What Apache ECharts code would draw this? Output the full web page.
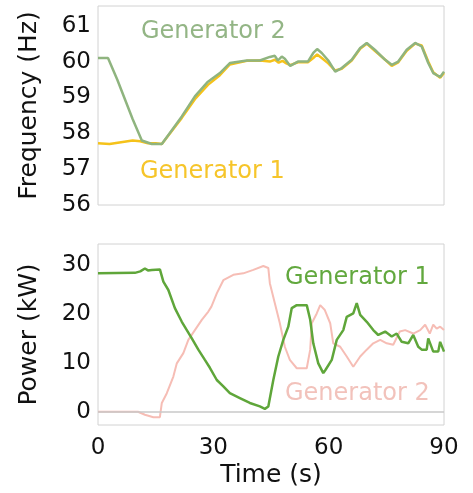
<!DOCTYPE html>
<html>
<head>
<meta charset="utf-8">
<script src="https://cdn.jsdelivr.net/npm/echarts@6/dist/echarts.min.js"></script>
<style>html,body{margin:0;padding:0;background:#fff}#c{width:473px;height:493px}</style>
</head>
<body>
<div id="c"></div>
<script>
// Frequency panel
var gen2FreqTime = [0, 2.6, 5, 7, 9, 11.4, 14, 16.6, 19.3, 21.8, 25.2, 28.6, 31.7, 34.3, 38.7, 42.1, 44.7, 46, 46.8, 47.8, 48.6, 50, 52, 54.6, 56, 57, 58.2, 59.9, 61.7, 63.4, 66, 68.2, 69.9, 72, 74.7, 76.4, 78.1, 80.3, 82.5, 84.2, 85.9, 87.2, 89, 90];
var gen2Freq = [60.1, 60.1, 59.5, 58.95, 58.4, 57.8, 57.7, 57.7, 58.1, 58.47, 59.03, 59.44, 59.68, 59.96, 60.03, 60.03, 60.13, 60.16, 60.03, 60.14, 60.08, 59.88, 60.0, 60.0, 60.24, 60.35, 60.24, 60.03, 59.72, 59.82, 60.05, 60.38, 60.52, 60.33, 60.05, 59.91, 60.0, 60.33, 60.52, 60.42, 59.96, 59.68, 59.57, 59.72];
var gen1FreqTime = [0, 3, 6, 9, 11, 13, 15, 16.6, 19.3, 21.8, 25.2, 28.6, 31.7, 34.3, 38.7, 42.1, 44.7, 46, 47, 48, 49, 50, 52, 54.6, 56, 57, 58.2, 59.9, 61.7, 63.4, 66, 68.2, 69.9, 72, 74.7, 76.4, 78.1, 80.3, 82.5, 84.2, 85.9, 87.2, 89, 90];
var gen1Freq = [57.72, 57.7, 57.75, 57.8, 57.78, 57.72, 57.72, 57.7, 58.08, 58.43, 58.95, 59.35, 59.62, 59.92, 60.02, 60.03, 60.0, 60.05, 59.97, 60.02, 59.95, 59.9, 59.98, 59.98, 60.1, 60.2, 60.1, 59.95, 59.75, 59.8, 60.03, 60.36, 60.5, 60.3, 60.05, 59.88, 59.98, 60.3, 60.5, 60.45, 60.0, 59.7, 59.55, 59.68];

// Power panel
var gen1PowerTime = [0, 9.6, 11, 12.2, 13, 14, 16.1, 17, 18.3, 20, 21.8, 23.1, 24.4, 26.1, 27.8, 29.1, 30.9, 32.6, 34.3, 36.9, 39.5, 42.1, 43.4, 44.3, 45.6, 46.9, 48.2, 49.5, 50.4, 51.7, 54.3, 55.2, 56, 57.3, 58.6, 59.2, 60.8, 62.1, 63.8, 64.7, 66.4, 67.3, 68.2, 69.9, 71.6, 72.9, 74.7, 76.4, 77.7, 79, 80.7, 82, 83.3, 84.2, 85.5, 85.9, 87.2, 88.5, 89, 90];
var gen1Power = [28.3, 28.4, 28.7, 29.3, 28.9, 29.0, 29.1, 26.6, 24.9, 21.2, 18.4, 16.7, 15.0, 12.7, 10.6, 9.0, 6.5, 5.2, 3.8, 2.8, 1.8, 1.1, 0.6, 1.1, 6.5, 11.3, 14.7, 17.4, 21.2, 21.8, 21.8, 18.8, 14.0, 9.9, 7.9, 8.6, 10.6, 14.7, 16.7, 19.4, 20.1, 22.2, 19.8, 18.4, 16.7, 15.7, 16.4, 15.4, 16.0, 14.3, 14.0, 15.7, 13.3, 12.7, 12.7, 15.0, 12.3, 12.3, 14.3, 12.3];
var gen2PowerTime = [0, 10.4, 12.2, 14.4, 16.1, 16.6, 17.9, 19.6, 20.5, 22.2, 23.5, 25.2, 27, 28.7, 29.5, 30.9, 32.6, 35.2, 37.8, 40.4, 43, 44.3, 44.7, 46, 47.3, 48.6, 49.9, 51.7, 54.3, 55.2, 55.6, 56.9, 57.8, 59, 60.4, 61.2, 63, 64.7, 66.4, 68.2, 69.9, 71.6, 73.4, 75.1, 76.8, 78.5, 79.9, 82, 83.8, 85.1, 86.3, 87.2, 88.1, 89, 90];
var gen2Power = [0, 0, -0.6, -1.1, -1.1, 1.8, 3.8, 7.2, 9.9, 12.0, 14.7, 16.7, 18.8, 20.5, 21.5, 24.2, 26.9, 28.0, 28.3, 29.0, 29.8, 29.4, 26.3, 22.2, 18.1, 13.3, 10.6, 8.9, 8.9, 12.7, 18.1, 20.1, 21.8, 20.8, 18.1, 14.0, 13.3, 11.3, 9.2, 11.3, 12.7, 14.0, 14.7, 14.0, 13.7, 16.4, 16.7, 16.0, 16.7, 17.8, 16.0, 17.8, 17.0, 17.4, 16.7];

var freqTicks = [56, 57, 58, 59, 60, 61];
var powerTicks = [0, 10, 20, 30];
var timeTicks = [0, 30, 60, 90];

function pairs(t, v) { return t.map(function (x, i) { return [x, v[i]]; }); }

var FONT = 'DejaVu Sans';
var chart = echarts.init(document.getElementById('c'), null, { renderer: 'canvas' });

function yLabel(ticks) {
  return {
    fontFamily: FONT, fontSize: 23, color: '#111', margin: 7,
    formatter: function (v) { return ticks.indexOf(Math.round(v * 1000) / 1000) >= 0 ? String(Math.round(v)) : ''; }
  };
}

chart.setOption({
  animation: false,
  backgroundColor: '#fff',
  grid: [
    { left: 98, right: 29, top: 6, height: 199, show: true, borderColor: '#d2d2d2', borderWidth: 1, backgroundColor: '#fff' },
    { left: 98, right: 29, top: 244, height: 181, show: true, borderColor: '#d2d2d2', borderWidth: 1, backgroundColor: '#fff' }
  ],
  xAxis: [
    { type: 'value', gridIndex: 0, min: 0, max: 90, interval: 30,
      axisLine: { show: false }, axisTick: { show: false }, axisLabel: { show: false }, splitLine: { show: false } },
    { type: 'value', gridIndex: 1, min: 0, max: 90, interval: 30,
      axisLine: { show: false }, axisTick: { show: false }, splitLine: { show: false },
      axisLabel: { fontFamily: FONT, fontSize: 23, color: '#111', margin: 12,
        formatter: function (v) { return timeTicks.indexOf(v) >= 0 ? String(v) : ''; } },
      name: 'Time (s)', nameLocation: 'middle', nameGap: 38,
      nameTextStyle: { fontFamily: FONT, fontSize: 25, color: '#111' } }
  ],
  yAxis: [
    { type: 'value', gridIndex: 0, min: 56, max: 61.55, splitNumber: 5,
      axisLine: { show: false }, axisTick: { show: false }, splitLine: { show: false },
      axisLabel: yLabel(freqTicks),
      name: 'Frequency (Hz)', nameLocation: 'middle', nameGap: 56,
      nameTextStyle: { fontFamily: FONT, fontSize: 25, color: '#111' } },
    { type: 'value', gridIndex: 1, min: -2.7, max: 34.3, splitNumber: 4,
      axisLine: { show: false }, axisTick: { show: false }, splitLine: { show: false },
      axisLabel: yLabel(powerTicks),
      name: 'Power (kW)', nameLocation: 'middle', nameGap: 56,
      nameTextStyle: { fontFamily: FONT, fontSize: 25, color: '#111' } }
  ],
  series: [
    { name: 'Generator 1 frequency', type: 'line', xAxisIndex: 0, yAxisIndex: 0, data: pairs(gen1FreqTime, gen1Freq),
      showSymbol: false, lineStyle: { color: '#f5c21a', width: 2.5 }, z: 2 },
    { name: 'Generator 2 frequency', type: 'line', xAxisIndex: 0, yAxisIndex: 0, data: pairs(gen2FreqTime, gen2Freq),
      showSymbol: false, lineStyle: { color: '#8fb47f', width: 2.5 }, z: 3 },
    { name: 'Generator 2 power', type: 'line', xAxisIndex: 1, yAxisIndex: 1, data: pairs(gen2PowerTime, gen2Power),
      showSymbol: false, lineStyle: { color: '#f6bdb5', width: 2 }, z: 2,
      markLine: { silent: true, symbol: 'none', label: { show: false }, lineStyle: { color: '#c8c8c8', width: 1.5, type: 'solid' },
        data: [{ yAxis: 0 }] } },
    { name: 'Generator 1 power', type: 'line', xAxisIndex: 1, yAxisIndex: 1, data: pairs(gen1PowerTime, gen1Power),
      showSymbol: false, lineStyle: { color: '#5fa63a', width: 2.5 }, z: 3 }
  ],
  graphic: [
    { type: 'text', left: 141, top: 20, style: { text: 'Generator 2', fontFamily: FONT, fontSize: 24, fill: '#93b585' } },
    { type: 'text', left: 140, top: 160, style: { text: 'Generator 1', fontFamily: FONT, fontSize: 24, fill: '#f6c52a' } },
    { type: 'text', left: 285, top: 266, style: { text: 'Generator 1', fontFamily: FONT, fontSize: 24, fill: '#62a83e' } },
    { type: 'text', left: 285, top: 382, style: { text: 'Generator 2', fontFamily: FONT, fontSize: 24, fill: '#f2c2bb' } }
  ]
});
</script>
</body>
</html>
